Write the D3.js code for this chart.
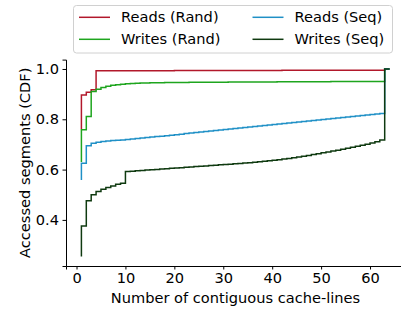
<!DOCTYPE html>
<html>
<head>
<meta charset="utf-8">
<script src="https://cdn.jsdelivr.net/npm/d3@7"></script>
<style>
    body { margin: 0; background: #fff; }
    svg { display: block; font-family: "DejaVu Sans", sans-serif; }
</style>
</head>
<body>
<svg id="chart" width="401" height="310"></svg>
<script>
// x positions: number of contiguous cache-lines (1..64)
const lines_x = d3.range(1, 65)

// CDF values, one per x (drawn as step-before)
const reads_rand = [0.76, 0.897, 0.907, 0.917, 0.993,
    0.993, 0.993, 0.993, 0.993, 0.993, 0.993, 0.993, 0.993, 0.993, 0.993,
    0.993, 0.993, 0.993, 0.993, 0.993, 0.994, 0.994, 0.994, 0.994, 0.994,
    0.994, 0.994, 0.994, 0.994, 0.994, 0.994, 0.994, 0.994, 0.994, 0.994,
    0.994, 0.994, 0.994, 0.994, 0.994, 0.994, 0.994, 0.995, 0.995, 0.995,
    0.995, 0.995, 0.995, 0.995, 0.995, 0.995, 0.995, 0.995, 0.995, 0.995,
    0.995, 0.995, 0.995, 0.995, 0.995, 0.995, 0.995, 0.995, 1.0]

const writes_rand = [0.63, 0.758, 0.811, 0.910, 0.919,
    0.926, 0.931, 0.935, 0.937, 0.939, 0.941, 0.942, 0.943, 0.944, 0.944,
    0.945, 0.945, 0.945, 0.946, 0.946, 0.946, 0.946, 0.946, 0.947, 0.947,
    0.947, 0.947, 0.947, 0.947, 0.947, 0.947, 0.948, 0.948, 0.948, 0.948,
    0.948, 0.948, 0.948, 0.948, 0.948, 0.948, 0.949, 0.949, 0.949, 0.949,
    0.949, 0.949, 0.949, 0.949, 0.949, 0.949, 0.949, 0.950, 0.950, 0.950,
    0.950, 0.950, 0.950, 0.950, 0.950, 0.950, 0.950, 0.950, 1.0]

const reads_seq = [0.559, 0.625, 0.695, 0.705, 0.709,
    0.712, 0.714, 0.716, 0.717, 0.718, 0.720, 0.722, 0.724, 0.726, 0.728,
    0.730, 0.732, 0.733, 0.735, 0.737, 0.739, 0.741, 0.743, 0.745, 0.747,
    0.749, 0.751, 0.753, 0.755, 0.757, 0.759, 0.761, 0.763, 0.765, 0.767,
    0.769, 0.771, 0.773, 0.775, 0.777, 0.779, 0.781, 0.783, 0.785, 0.787,
    0.789, 0.791, 0.793, 0.795, 0.797, 0.799, 0.801, 0.803, 0.805, 0.807,
    0.809, 0.811, 0.813, 0.815, 0.817, 0.819, 0.821, 0.823, 1.0]

const writes_seq = [0.254, 0.376, 0.476, 0.500, 0.513,
    0.522, 0.529, 0.535, 0.542, 0.546, 0.592, 0.593, 0.595, 0.596, 0.598,
    0.599, 0.600, 0.602, 0.603, 0.605, 0.606, 0.607, 0.609, 0.610, 0.612,
    0.613, 0.614, 0.616, 0.617, 0.619, 0.620, 0.621, 0.623, 0.624, 0.626,
    0.627, 0.629, 0.631, 0.633, 0.635, 0.637, 0.639, 0.642, 0.644, 0.647,
    0.650, 0.653, 0.656, 0.660, 0.663, 0.667, 0.670, 0.674, 0.677, 0.681,
    0.685, 0.689, 0.693, 0.697, 0.701, 0.706, 0.711, 0.718, 1.0]

const series_names = ["Reads (Rand)", "Writes (Rand)", "Reads (Seq)", "Writes (Seq)"]
const series_values = [reads_rand, writes_rand, reads_seq, writes_seq]
const series_colors = ["#b2182b", "#1ea51e", "#1f90c6", "#0f3a10"]

const x_ticks = [0, 10, 20, 30, 40, 50, 60]
const y_ticks = [0.4, 0.6, 0.8, 1.0]

// layout
const svg = d3.select("#chart")
const m_left = 66, m_right = 405, m_top = 59.6, m_bottom = 266

const x = d3.scaleLinear().domain([-2.15, 67.15]).range([m_left, m_right])
const y = d3.scaleLinear().domain([0.2167, 1.0373]).range([m_bottom, m_top])

svg.append("defs").append("clipPath").attr("id", "plot-clip")
    .append("rect")
    .attr("x", m_left).attr("y", m_top)
    .attr("width", m_right - m_left).attr("height", m_bottom - m_top)

// series
const line = d3.line()
    .x(d => x(d[0]))
    .y(d => y(d[1]))
    .curve(d3.curveStepBefore)

const plot = svg.append("g").attr("clip-path", "url(#plot-clip)")
series_values.forEach((vals, i) => {
    plot.append("path")
        .attr("d", line(lines_x.map((v, j) => [v, vals[j]])))
        .attr("fill", "none")
        .attr("stroke", series_colors[i])
        .attr("stroke-width", 1.5)
        .attr("stroke-linejoin", "miter")
})

// axes
const font_size = "14.6px"

const x_axis = svg.append("g")
    .attr("transform", `translate(0,${m_bottom})`)
    .call(d3.axisBottom(x).tickValues(x_ticks).tickFormat(d3.format("d"))
        .tickSizeOuter(0).tickSize(3.5).tickPadding(3.5))
x_axis.select(".domain").attr("stroke", "#000").attr("stroke-width", 1)
x_axis.selectAll("text").attr("font-size", font_size).attr("fill", "#000")
    .attr("font-family", "DejaVu Sans")

const y_axis = svg.append("g")
    .attr("transform", `translate(${m_left},0)`)
    .call(d3.axisLeft(y).tickValues(y_ticks).tickFormat(d3.format(".1f"))
        .tickSizeOuter(0).tickSize(3.5).tickPadding(3.5))
y_axis.select(".domain").attr("stroke", "#000").attr("stroke-width", 1)
y_axis.selectAll("text").attr("font-size", font_size).attr("fill", "#000")
    .attr("font-family", "DejaVu Sans")

// axis labels
svg.append("text")
    .attr("x", (m_left + m_right) / 2).attr("y", 303)
    .attr("text-anchor", "middle")
    .attr("font-size", font_size)
    .text("Number of contiguous cache-lines")

svg.append("text")
    .attr("transform", `translate(30,${(m_top + m_bottom) / 2}) rotate(-90)`)
    .attr("text-anchor", "middle")
    .attr("font-size", font_size)
    .text("Accessed segments (CDF)")

// legend
const legend = svg.append("g")
legend.append("rect")
    .attr("x", 73.5).attr("y", 5.5)
    .attr("width", 319).attr("height", 47.5)
    .attr("rx", 3)
    .attr("fill", "#fff").attr("stroke", "#d0d0d0")

const legend_cols = [79, 252.5]
const legend_rows = [17.3, 39.3]
series_names.forEach((name, i) => {
    let cx = legend_cols[Math.floor(i / 2)]
    let cy = legend_rows[i % 2]
    legend.append("line")
        .attr("x1", cx).attr("x2", cx + 31)
        .attr("y1", cy).attr("y2", cy)
        .attr("stroke", series_colors[i]).attr("stroke-width", 1.5)
    legend.append("text")
        .attr("x", cx + 42).attr("y", cy)
        .attr("dy", "0.35em")
        .attr("font-size", font_size)
        .text(name)
})
</script>
</body>
</html>
